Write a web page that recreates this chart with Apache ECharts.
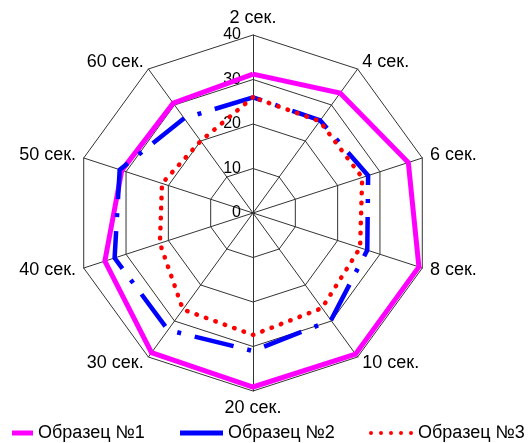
<!DOCTYPE html>
<html>
<head>
<meta charset="utf-8">
<script src="https://cdn.jsdelivr.net/npm/echarts@6/dist/echarts.min.js"></script>
<style>
html,body{margin:0;padding:0;background:#fff;}
#c{width:531px;height:443px;}
</style>
</head>
<body>
<div id="c"></div>
<script>
// Data (clockwise from top, as in the reference)
const categories = ['2 сек.', '4 сек.', '6 сек.', '8 сек.', '10 сек.', '20 сек.', '30 сек.', '40 сек.', '50 сек.', '60 сек.'];
const seriesNames = ['Образец №1', 'Образец №2', 'Образец №3'];
const sample1 = [31.2, 33.3, 36.7, 39.2, 39.2, 39.1, 38.8, 35.0, 31.0, 30.5];
const sample2 = [26.0, 25.7, 27.2, 27.0, 29.8, 31.0, 32.5, 32.7, 31.5, 26.3];
const sample3 = [26.0, 25.5, 25.8, 25.3, 26.4, 27.4, 26.8, 22.0, 21.5, 20.0];
const axisMin = 0, axisMax = 40, axisSplits = 4;

// ECharts lays indicators counter-clockwise; reorder so they run clockwise.
const order = [0].concat(categories.map((_, i) => i).slice(1).reverse());
const reorder = arr => order.map(i => arr[i]);

const FONT = '"Liberation Sans", Arial, sans-serif';
const colors = ['#ff00ff', '#0000ff', '#ff0000'];

const indicators = reorder(categories).map((name, i) => {
  const ind = { name: name, min: axisMin, max: axisMax };
  if (i === 0) ind.axisLabel = { show: true };
  return ind;
});

const chart = echarts.init(document.getElementById('c'), null, { renderer: 'canvas' });

const dotsPath = 'path://M0,2a2,2 0 1,0 4,0a2,2 0 1,0 -4,0Z M10,2a2,2 0 1,0 4,0a2,2 0 1,0 -4,0Z M20,2a2,2 0 1,0 4,0a2,2 0 1,0 -4,0Z M30,2a2,2 0 1,0 4,0a2,2 0 1,0 -4,0Z M40,2a2,2 0 1,0 4,0a2,2 0 1,0 -4,0Z';

function legendFor(idx, left, width, height, icon) {
  return {
    left: left, top: 424,
    itemWidth: width, itemHeight: height,
    padding: 0,
    data: [{ name: seriesNames[idx], icon: icon }],
    itemStyle: { borderWidth: 0 },
    textStyle: { color: '#000', fontSize: 18, fontFamily: FONT },
    selectedMode: false
  };
}

chart.setOption({
  animation: false,
  backgroundColor: '#fff',
  legend: [
    legendFor(0, 12, 21, 5, 'path://M0,0H21V5H0Z'),
    legendFor(1, 180, 43, 5, 'path://M0,0H43V5H0Z'),
    legendFor(2, 369, 44, 4, dotsPath)
  ],
  radar: {
    center: [253, 213],
    radius: 178,
    startAngle: 90,
    shape: 'polygon',
    splitNumber: axisSplits,
    indicator: indicators,
    axisName: { color: '#000', fontSize: 18, fontFamily: FONT },
    nameGap: 8,
    axisLine: { show: true, lineStyle: { color: '#333', width: 1 } },
    splitLine: { show: true, lineStyle: { color: '#333', width: 1 } },
    splitArea: { show: false },
    axisTick: { show: false },
    axisLabel: { show: false, color: '#000', fontSize: 16, fontFamily: FONT, margin: 12 }
  },
  series: [{
    type: 'radar',
    symbol: 'none',
    silent: true,
    data: [
      {
        name: seriesNames[0], value: reorder(sample1),
        lineStyle: { color: colors[0], width: 5, join: 'miter' },
        itemStyle: { color: colors[0] }
      },
      {
        name: seriesNames[1], value: reorder(sample2),
        lineStyle: { color: colors[1], width: 4.5, type: [40, 14, 4, 14] },
        itemStyle: { color: colors[1] }
      },
      {
        name: seriesNames[2], value: reorder(sample3),
        lineStyle: { color: colors[2], width: 4.5, type: [0.5, 9.5], cap: 'round' },
        itemStyle: { color: colors[2] }
      }
    ]
  }]
});
</script>
</body>
</html>
